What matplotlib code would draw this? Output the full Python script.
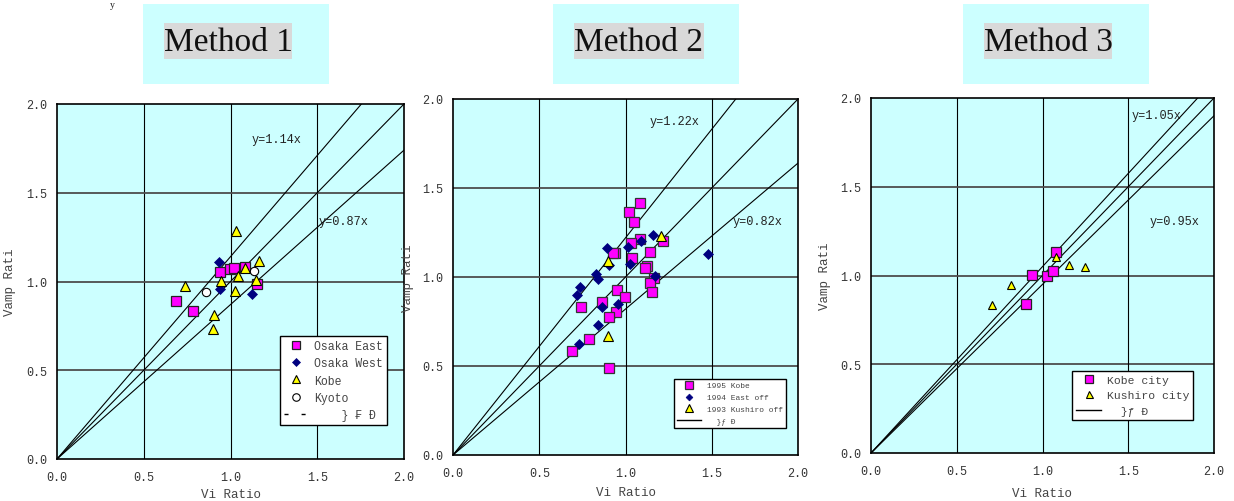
import matplotlib
matplotlib.use("Agg")
import matplotlib.pyplot as plt
from matplotlib.patches import Rectangle
from matplotlib.lines import Line2D

# ---------------- data ----------------
titles = ["Method 1", "Method 2", "Method 3"]
x_label = "Vi Ratio"
y_label = "Vamp Rati"
ticks = [0.0, 0.5, 1.0, 1.5, 2.0]
tick_labels = ["0.0", "0.5", "1.0", "1.5", "2.0"]

# Method 1
m1_osaka_east_x = [0.686, 0.786, 0.941, 0.997, 1.020, 1.084, 1.151]
m1_osaka_east_y = [0.888, 0.836, 1.055, 1.070, 1.076, 1.080, 0.988]
m1_osaka_west_x = [0.936, 0.940, 1.122]
m1_osaka_west_y = [1.111, 0.958, 0.930]
m1_kobe_x = [0.738, 1.034, 1.164, 1.082, 1.045, 0.945, 1.145, 1.026, 0.905, 0.901]
m1_kobe_y = [0.973, 1.285, 1.114, 1.076, 1.033, 1.005, 1.008, 0.946, 0.813, 0.731]
m1_kyoto_x = [0.857, 1.135]
m1_kyoto_y = [0.943, 1.061]
m1_slopes = [1.14, 1.0, 0.87]
m1_line_labels = ["y=1.14x", "y=0.87x"]

# Method 2
m2_kobe_x = [1.082, 1.019, 1.049, 1.084, 1.030, 1.216, 0.939, 0.930, 1.140, 1.036,
             1.123, 1.113, 1.164, 1.144, 1.154, 0.949, 0.997, 0.862, 0.740, 0.943,
             0.906, 0.788, 0.689, 0.902]
m2_kobe_y = [1.417, 1.367, 1.309, 1.213, 1.189, 1.200, 1.135, 1.135, 1.139, 1.108,
             1.060, 1.049, 0.996, 0.964, 0.914, 0.929, 0.886, 0.860, 0.833, 0.803,
             0.773, 0.654, 0.584, 0.490]
m2_east_x = [1.161, 0.891, 1.016, 1.088, 0.902, 1.026, 0.830, 0.842, 1.173, 0.736,
             0.717, 0.862, 0.955, 0.840, 0.728, 1.481]
m2_east_y = [1.238, 1.161, 1.169, 1.200, 1.067, 1.073, 1.017, 0.989, 1.007, 0.944,
             0.901, 0.833, 0.850, 0.732, 0.622, 1.131]
m2_kushiro_x = [1.208, 0.897, 0.897]
m2_kushiro_y = [1.232, 1.088, 0.669]
m2_slopes = [1.22, 1.0, 0.82]
m2_line_labels = ["y=1.22x", "y=0.82x"]

# Method 3
m3_kobe_x = [1.076, 0.940, 1.025, 1.060, 0.901]
m3_kobe_y = [1.134, 1.005, 0.997, 1.027, 0.838]
m3_kushiro_x = [1.076, 1.155, 1.247, 0.817, 0.707]
m3_kushiro_y = [1.102, 1.061, 1.050, 0.948, 0.834]
m3_slopes = [1.05, 1.0, 0.95]
m3_line_labels = ["y=1.05x", "y=0.95x"]

legend_line_label_1 = "    } \u20a3 \u0110"
legend_line_label_23 = "  }\u0192 \u0110"

# ---------------- style ----------------
MONO = ["Liberation Mono", "DejaVu Sans Mono"]
plt.rcParams["font.family"] = MONO
W, H = 1234, 502
fig = plt.figure(figsize=(W / 100, H / 100), dpi=100)
fig.patch.set_facecolor("white")

def fx(px):
    return px / W

def fy(py):
    return 1 - py / H

AX_BG = "#ccffff"
MAG = "#ff00ff"
NAVY = "#000080"
YEL = "#ffff00"

# title boxes
title_boxes = [(143, 329), (553, 739), (963, 1149)]
gray_boxes = [(164, 292), (574, 704), (984, 1112)]
for (bx0, bx1), (gx0, gx1), t in zip(title_boxes, gray_boxes, titles):
    fig.patches.append(Rectangle((fx(bx0), fy(85)), fx(bx1 - bx0), (85 - 5) / H,
                                 transform=fig.transFigure, facecolor=AX_BG,
                                 edgecolor="none", zorder=0))
    fig.patches.append(Rectangle((fx(gx0), fy(60)), fx(gx1 - gx0), (60 - 24) / H,
                                 transform=fig.transFigure, facecolor="#d9d9d9",
                                 edgecolor="none", zorder=1))
    fig.text(fx((gx0 + gx1) / 2), fy(43), t, ha="center", va="center",
             fontsize=24, family="Liberation Serif", color="#111111", zorder=2)

fig.text(fx(112), fy(1), "y", ha="center", va="top", fontsize=7,
         family="Liberation Serif", color="#222222")

axes_px = [(57, 404, 105, 460), (453, 798, 100, 456), (871, 1214, 99, 454)]
axs = []
for (l, r, t, b) in axes_px:
    ax = fig.add_axes([fx(l), fy(b), fx(r - l), (b - t) / H])
    ax.set_facecolor(AX_BG)
    ax.set_xlim(0, 2)
    ax.set_ylim(0, 2)
    ax.set_xticks(ticks)
    ax.set_yticks(ticks)
    ax.set_xticklabels(tick_labels)
    ax.set_yticklabels(tick_labels)
    ax.tick_params(length=0, labelsize=8.5, labelcolor="#333333")
    ax.tick_params(axis="x", pad=9)
    ax.tick_params(axis="y", pad=7)
    for v in ticks[1:-1]:
        ax.axvline(v, color="black", lw=0.8, zorder=1)
        ax.axhline(v, color="#4d4d4d", lw=1.3, zorder=1)
    for s in ax.spines.values():
        s.set_color("black")
        s.set_linewidth(1.2)
        s.set_zorder(5)
    ax.set_xlabel(x_label, fontsize=9, color="#444444")
    ax.set_ylabel(y_label, fontsize=9, color="#444444")
    axs.append(ax)

axs[0].yaxis.set_label_coords(-0.118, 0.5)
axs[1].yaxis.set_label_coords(-0.112, 0.5)
axs[2].yaxis.set_label_coords(-0.117, 0.5)
axs[0].xaxis.set_label_coords(0.5, -0.083)
axs[1].xaxis.set_label_coords(0.5, -0.088)
axs[2].xaxis.set_label_coords(0.5, -0.097)

def draw_lines(ax, slopes):
    for s in slopes:
        ax.plot([0, 2], [0, 2 * s], color="black", lw=0.8, zorder=2, clip_on=True)

# ---- panel 1
ax = axs[0]
draw_lines(ax, m1_slopes)
ax.text(1.12, 1.80, m1_line_labels[0], fontsize=8.6, color="#222222", va="center")
ax.text(1.505, 1.34, m1_line_labels[1], fontsize=8.6, color="#222222", va="center")
h1 = ax.plot(m1_osaka_east_x, m1_osaka_east_y, ls="none", marker="s", ms=7,
             mfc=MAG, mec="#222222", mew=0.9, zorder=4)[0]
h2 = ax.plot(m1_osaka_west_x, m1_osaka_west_y, ls="none", marker="D", ms=4.6,
             mfc=NAVY, mec=NAVY, mew=0.5, zorder=4)[0]
h3 = ax.plot(m1_kobe_x, m1_kobe_y, ls="none", marker="^", ms=6.5,
             mfc=YEL, mec="black", mew=0.8, zorder=4)[0]
h4 = ax.plot(m1_kyoto_x, m1_kyoto_y, ls="none", marker="o", ms=6.0,
             mfc="white", mec="black", mew=0.8, zorder=4)[0]
hl = Line2D([], [], color="black", lw=1.0, linestyle=(0, (2.9, 9.4)))
leg = ax.legend([h1, h2, h3, h4, hl],
                ["Osaka East", "Osaka West", "Kobe", "Kyoto", legend_line_label_1],
                loc="lower right", bbox_to_anchor=(0.951, 0.096), borderaxespad=0,
                frameon=True, fancybox=False, edgecolor="black",
                framealpha=1, handlelength=2.0, handletextpad=0.6, markerscale=0.9,
                labelspacing=0.45, borderpad=0.35, prop={"family": MONO, "size": 8.3})
leg.get_frame().set_linewidth(1.0)
for t in leg.get_texts():
    t.set_color("#444444")

# ---- panel 2
ax = axs[1]
draw_lines(ax, m2_slopes)
ax.text(1.137, 1.874, m2_line_labels[0], fontsize=8.6, color="#222222", va="center")
ax.text(1.62, 1.313, m2_line_labels[1], fontsize=8.6, color="#222222", va="center")
g1 = ax.plot(m2_kobe_x, m2_kobe_y, ls="none", marker="s", ms=7,
             mfc=MAG, mec="#333333", mew=0.9, zorder=4)[0]
g2 = ax.plot(m2_east_x, m2_east_y, ls="none", marker="D", ms=4.6,
             mfc=NAVY, mec=NAVY, mew=0.5, zorder=4)[0]
g3 = ax.plot(m2_kushiro_x, m2_kushiro_y, ls="none", marker="^", ms=7,
             mfc=YEL, mec="black", mew=0.8, zorder=4)[0]
gl = Line2D([], [], color="black", lw=1.0)
leg = ax.legend([g1, g2, g3, gl],
                ["1995 Kobe", "1994 East off", "1993 Kushiro off", legend_line_label_23],
                loc="lower right", bbox_to_anchor=(0.966, 0.075), borderaxespad=0,
                frameon=True, fancybox=False, edgecolor="black", framealpha=1,
                handlelength=3.0, handletextpad=0.8, labelspacing=0.55,
                borderpad=0.4, markerscale=0.75, prop={"family": MONO, "size": 5.7})
leg.get_frame().set_linewidth(1.0)
for t in leg.get_texts():
    t.set_color("#444444")

# ---- panel 3
ax = axs[2]
draw_lines(ax, m3_slopes)
ax.text(1.522, 1.906, m3_line_labels[0], fontsize=8.6, color="#222222", va="center")
ax.text(1.625, 1.305, m3_line_labels[1], fontsize=8.6, color="#222222", va="center")
k1 = ax.plot(m3_kobe_x, m3_kobe_y, ls="none", marker="s", ms=7,
             mfc=MAG, mec="#222222", mew=0.9, zorder=4)[0]
k2 = ax.plot(m3_kushiro_x, m3_kushiro_y, ls="none", marker="^", ms=6.3,
             mfc=YEL, mec="black", mew=0.8, zorder=4)[0]
kl = Line2D([], [], color="black", lw=1.0)
leg = ax.legend([k1, k2, kl], ["Kobe city", "Kushiro city", legend_line_label_23],
                loc="lower right", bbox_to_anchor=(0.940, 0.093), borderaxespad=0,
                frameon=True, fancybox=False, edgecolor="black", framealpha=1,
                handlelength=2.2, handletextpad=0.5, labelspacing=0.5,
                borderpad=0.35, markerscale=0.8, prop={"family": MONO, "size": 8.2})
leg.get_frame().set_linewidth(1.0)
for t in leg.get_texts():
    t.set_color("#444444")

fig.savefig("out.png", dpi=100, facecolor="white")
